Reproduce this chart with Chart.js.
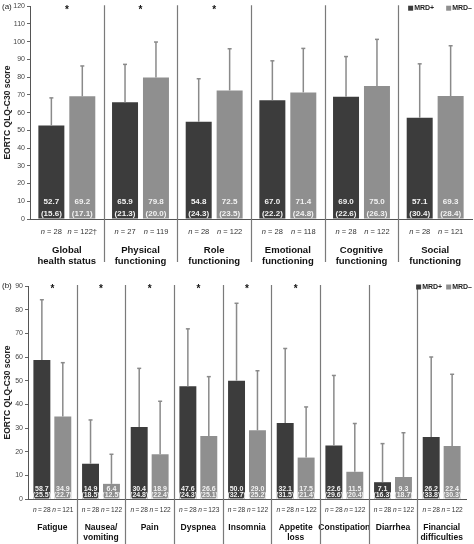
<!DOCTYPE html>
<html><head><meta charset="utf-8">
<script src="https://cdn.jsdelivr.net/npm/chart.js@4/dist/chart.umd.min.js"></script>
<style>
html,body{margin:0;padding:0;background:#fff;}
#wrap{position:relative;width:474px;height:544px;overflow:hidden;}
#c1{position:absolute;left:0;top:0;}
#c2{position:absolute;left:0;top:270px;}
</style></head><body>
<div id="wrap"><canvas id="c1" width="474" height="270"></canvas><canvas id="c2" width="474" height="274"></canvas></div>
<script>
// ---------- Panel (a): functioning scales ----------
const topCategories = [["Global","health status"],["Physical","functioning"],["Role","functioning"],["Emotional","functioning"],["Cognitive","functioning"],["Social","functioning"]];
const topPosMean = [52.7, 65.9, 54.8, 67.0, 69.0, 57.1];
const topPosSD   = [15.6, 21.3, 24.3, 22.2, 22.6, 30.4];
const topNegMean = [69.2, 79.8, 72.5, 71.4, 75.0, 69.3];
const topNegSD   = [17.1, 20.0, 23.5, 24.8, 26.3, 28.4];
const topPosN    = ["28","27","28","28","28","28"];
const topNegN    = ["122\u2020","119","122","118","122","121"];
const topSig     = [true, true, true, false, false, false];
const topTicks   = {min:0, max:120, step:10};

// ---------- Panel (b): symptom scales ----------
const botCategories = ["Fatigue",["Nausea/","vomiting"],"Pain","Dyspnea","Insomnia",["Appetite","loss"],"Constipation","Diarrhea",["Financial","difficulties"]];
const botPosMean = [58.7, 14.9, 30.4, 47.6, 50.0, 32.1, 22.6, 7.1, 26.2];
const botPosSD   = [25.5, 18.5, 24.8, 24.3, 32.7, 31.5, 29.6, 16.3, 33.8];
const botNegMean = [34.9, 6.4, 18.9, 26.6, 29.0, 17.5, 11.5, 9.3, 22.4];
const botNegSD   = [22.7, 12.5, 22.4, 25.1, 25.2, 21.4, 20.4, 18.7, 30.3];
const botPosN    = ["28","28","28","28","28","28","28","28","28"];
const botNegN    = ["121","122","122","123","122","122","122","122","122"];
const botSig     = [true, true, true, true, true, true, false, false, false];
const botTicks   = {min:0, max:90, step:10};

const seriesLabels = ["MRD+", "MRD\u2013"];
const yTitle = "EORTC QLQ-C30 score";

const DARK = "#3c3c3c", LIGHT = "#8f8f8f", ERR = "#8a8a8a", DIV = "#7a7a7a";
const FONT = "'Liberation Sans', Arial, sans-serif";

const deco = {
  id: "deco",
  afterDatasetsDraw(chart, args, o) {
    const ctx = chart.ctx, ca = chart.chartArea;
    const xs = chart.scales.x, ys = chart.scales.y;
    const base = ys.getPixelForValue(0);
    ctx.save();
    // dividers between categories
    ctx.strokeStyle = DIV; ctx.lineWidth = 1.2;
    const nCat = chart.data.labels.length;
    for (let i = 1; i < nCat; i++) {
      const x = Math.round((xs.getPixelForValue(i-1) + xs.getPixelForValue(i)) / 2) + 0.5;
      ctx.beginPath(); ctx.moveTo(x, ca.top - o.divTopExtra); ctx.lineTo(x, o.divBottom); ctx.stroke();
    }
    // error bars, values, n
    chart.data.datasets.forEach((ds, d) => {
      const meta = chart.getDatasetMeta(d);
      const sds = o.sd[d], ns = o.n[d];
      meta.data.forEach((bar, i) => {
        const x = bar.x;
        const yEnd = ys.getPixelForValue(ds.data[i] + sds[i]);
        ctx.strokeStyle = ERR; ctx.lineWidth = 1.5;
        ctx.beginPath(); ctx.moveTo(x, bar.y); ctx.lineTo(x, yEnd); ctx.stroke();
        ctx.beginPath(); ctx.moveTo(x - 2, yEnd); ctx.lineTo(x + 2, yEnd); ctx.stroke();
        // values
        ctx.fillStyle = "#f2f2f2"; ctx.textAlign = "center"; ctx.textBaseline = "middle";
        ctx.font = "bold " + o.valFont + "px " + FONT;
        ctx.fillText(ds.data[i].toFixed(1), x, base - o.valOff1);
        ctx.fillText("(" + sds[i].toFixed(1) + ")", x, base - o.valOff2);
        // n label
        ctx.fillStyle = "#333";
        const f1 = "italic " + o.nFont + "px " + FONT, f2 = o.nFont + "px " + FONT;
        ctx.font = f1; const w1 = ctx.measureText("n").width;
        ctx.font = f2; const t2 = o.sp + "=" + o.sp + ns[i]; const w2 = ctx.measureText(t2).width;
        const x0 = x - (w1 + w2) / 2;
        ctx.textAlign = "left";
        ctx.font = f1; ctx.fillText("n", x0, base + o.nOff);
        ctx.font = f2; ctx.fillText(t2, x0 + w1, base + o.nOff);
      });
    });
    // significance asterisks
    ctx.fillStyle = "#111"; ctx.textAlign = "center"; ctx.textBaseline = "middle";
    ctx.font = "bold 10px " + FONT;
    o.sig.forEach((s, i) => { if (s) ctx.fillText("*", xs.getPixelForValue(i), ca.top + o.starOff); });
    // legend
    ctx.font = "bold 7px " + FONT; ctx.textAlign = "left";
    const items = chart.data.datasets.map(ds => ({c: ds.backgroundColor, t: ds.label}));
    let total = 0;
    items.forEach((it, k) => { total += 6 + ctx.measureText(it.t).width + (k ? o.legGap : 0); });
    let lx = ca.right + o.legRight - total;
    const ly = ca.top + o.legOff;
    items.forEach((it, k) => {
      if (k) lx += o.legGap;
      ctx.fillStyle = it.c; ctx.fillRect(lx, ly - 2.5, 5, 5);
      ctx.fillStyle = "#222"; ctx.fillText(it.t, lx + 6, ly);
      lx += 6 + ctx.measureText(it.t).width;
    });
    // panel label
    ctx.font = "8px " + FONT; ctx.fillStyle = "#222";
    ctx.fillText(o.panel, 2, ca.top + o.panelOff);
    ctx.restore();
  }
};

function makeChart(id, cats, pm, nm, psd, nsd, pn, nn, sig, tk, opt) {
  return new Chart(document.getElementById(id), {
    type: "bar",
    data: {
      labels: cats,
      datasets: [
        {label: seriesLabels[0], data: pm, backgroundColor: DARK, categoryPercentage: opt.cp, barPercentage: opt.bp},
        {label: seriesLabels[1], data: nm, backgroundColor: LIGHT, categoryPercentage: opt.cp, barPercentage: opt.bp}
      ]
    },
    options: {
      responsive: false, animation: false,
      layout: {padding: {top: opt.padTop, right: opt.padRight, left: 0, bottom: 0}},
      plugins: {
        legend: {display: false}, tooltip: {enabled: false},
        deco: Object.assign({sd: [psd, nsd], n: [pn, nn], sig: sig}, opt.deco)
      },
      scales: {
        x: {
          grid: {display: false, drawTicks: true, tickLength: opt.catPad},
          border: {display: true, color: "#555", width: 1},
          ticks: {font: {family: FONT, size: opt.catFont, weight: "bold", lineHeight: 1.12}, color: "#111", padding: 0, maxRotation: 0, autoSkip: false},
          afterFit(s) { s.height = opt.xHeight; }
        },
        y: {
          min: tk.min, max: tk.max,
          grid: {drawOnChartArea: false, drawTicks: true, tickLength: 3, color: "#666"},
          border: {display: true, color: "#555", width: 1},
          ticks: {stepSize: tk.step, font: {family: FONT, size: 7}, color: "#444", padding: 2},
          title: {display: true, text: yTitle, font: {family: FONT, size: 8.5, weight: "bold"}, color: "#222", padding: {top: 3, bottom: 0}},
          afterFit(s) { s.width = opt.yWidth; }
        }
      }
    },
    plugins: [deco]
  });
}

makeChart("c1", topCategories, topPosMean, topNegMean, topPosSD, topNegSD, topPosN, topNegN, topSig, topTicks, {
  cp: 0.84, bp: 0.84, padTop: 4, padRight: 2, catFont: 9.5, catPad: 26, xHeight: 51, yWidth: 30,
  deco: {valFont: 8, valOff1: 17, valOff2: 5, nFont: 7.5, sp: " ", nOff: 13, divBottom: 262, divTopExtra: 1, starOff: 4, legOff: 2, legRight: 0, legGap: 12, panelOff: 1, panel: "(a)"}
});
makeChart("c2", botCategories, botPosMean, botNegMean, botPosSD, botNegSD, botPosN, botNegN, botSig, botTicks, {
  cp: 0.86, bp: 0.81, padTop: 16, padRight: 8, catFont: 8.5, catPad: 24, xHeight: 45, yWidth: 28,
  deco: {valFont: 7, valOff1: 10, valOff2: 3.5, nFont: 6.6, sp: "\u2009", nOff: 11, divBottom: 274, divTopExtra: 1, starOff: 3, legOff: 1, legRight: 6, legGap: 4, panelOff: 0, panel: "(b)"}
});
</script>
</body></html>
